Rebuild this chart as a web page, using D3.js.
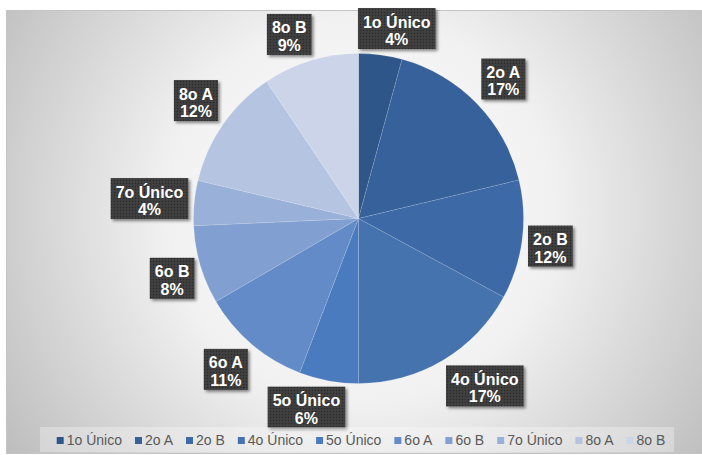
<!DOCTYPE html>
<html>
<head>
<meta charset="utf-8">
<script src="https://cdn.jsdelivr.net/npm/d3@7"></script>
<style>
html,body{margin:0;padding:0;background:#fff;}
svg{display:block;}
</style>
</head>
<body>
<svg id="chart" width="702" height="455"></svg>
<script>
const categories = ["1o Único","2o A","2o B","4o Único","5o Único","6o A","6o B","7o Único","8o A","8o B"];
const values = [4.25, 17.0, 11.65, 17.1, 5.8, 10.8, 7.7, 4.4, 11.9, 9.4];
const colors = ["#2f5689","#36619a","#3d69a6","#4573ae","#4a7bbe","#638bc8","#819fd0","#99b0d9","#b5c4e1","#cbd4e9"];

const W = 702, H = 455;
const svg = d3.select("#chart");
const defs = svg.append("defs");

const grad = defs.append("radialGradient").attr("id","bg")
  .attr("gradientUnits","userSpaceOnUse")
  .attr("cx",360).attr("cy",210).attr("r",430);
grad.append("stop").attr("offset",0).attr("stop-color","#ffffff");
grad.append("stop").attr("offset",0.45).attr("stop-color","#f1f1f1");
grad.append("stop").attr("offset",1).attr("stop-color","#bdbdbd");

const pat = defs.append("pattern").attr("id","dots")
  .attr("patternUnits","userSpaceOnUse").attr("width",3).attr("height",3);
pat.append("rect").attr("width",3).attr("height",3).attr("fill","#3c3c3c");
pat.append("rect").attr("x",0).attr("y",0).attr("width",1).attr("height",1).attr("fill","#2a2a2a");
pat.append("rect").attr("x",1.5).attr("y",1.5).attr("width",1).attr("height",1).attr("fill","#4a4a4a");

const sh = defs.append("filter").attr("id","shadow").attr("x","-20%").attr("y","-20%").attr("width","150%").attr("height","150%");
sh.append("feDropShadow").attr("dx",2).attr("dy",2).attr("stdDeviation",1.5)
  .attr("flood-color","#000").attr("flood-opacity",0.45);

// frame
svg.append("rect").attr("x",6.5).attr("y",10.5).attr("width",W).attr("height",443)
  .attr("fill","url(#bg)").attr("stroke","#c4c4c4").attr("stroke-width",1);

const cx = 358.5, cy = 218.5, r = 165;
const pie = d3.pie().sort(null).value(d => d)(values);
const arc = d3.arc().innerRadius(0).outerRadius(r);
const total = d3.sum(values);

const g = svg.append("g").attr("transform",`translate(${cx},${cy})`);
g.selectAll("path").data(pie).join("path")
  .attr("d", arc)
  .attr("fill", (d,i) => colors[i])
  .attr("stroke","rgba(255,255,255,0.2)")
  .attr("stroke-width",0.6);

// labels
const fontLbl = "bold 16px 'Liberation Sans', Arial, sans-serif";
const gap = 6, kx = 3, ky = 2, padX = 5, boxH = 41;
const lg = svg.append("g");
pie.forEach((d,i) => {
  const a = (d.startAngle + d.endAngle)/2;
  const sa = Math.sin(a), ca = Math.cos(a);
  const px = cx + (r+gap)*sa, py = cy - (r+gap)*ca;
  const pct = Math.round(values[i]/total*100) + "%";
  const grp = lg.append("g");
  const t1 = grp.append("text").text(categories[i]).style("font",fontLbl).attr("fill","#fff").attr("text-anchor","middle");
  const t2 = grp.append("text").text(pct).style("font",fontLbl).attr("fill","#fff").attr("text-anchor","middle");
  const tw = Math.max(t1.node().getComputedTextLength(), t2.node().getComputedTextLength());
  const bw = tw + 2*padX;
  const hw = bw/2, hh = boxH/2;
  const sx = Math.max(-1, Math.min(1, sa*kx));
  const sy = Math.max(-1, Math.min(1, -ca*ky));
  const bx = px + hw*sx, by = py + hh*sy;
  grp.insert("rect","text").attr("x",bx-hw).attr("y",by-hh).attr("width",bw).attr("height",boxH)
    .attr("fill","url(#dots)").attr("filter","url(#shadow)");
  t1.attr("x",bx).attr("y",by-hh+19.5);
  t2.attr("x",bx).attr("y",by-hh+37);
});

// legend
svg.append("rect").attr("x",40).attr("y",427).attr("width",634).attr("height",25)
  .attr("fill","#ffffff").attr("fill-opacity",0.3);
const leg = svg.append("g");
const items = [];
let xx = 0;
categories.forEach((c,i) => {
  const it = leg.append("g");
  it.append("rect").attr("x",0).attr("y",-7.5).attr("width",7).attr("height",7).attr("fill",colors[i]);
  const t = it.append("text").text(c).attr("x",10).attr("y",0)
    .style("font","14px 'Liberation Sans', Arial, sans-serif").attr("fill","#595959");
  const w = 10 + t.node().getComputedTextLength();
  items.push({it, x: xx});
  xx += w + 13;
});
const totalW = xx - 13;
const startX = 361 - totalW/2;
items.forEach(o => o.it.attr("transform",`translate(${startX + o.x},444.5)`));
</script>
</body>
</html>
